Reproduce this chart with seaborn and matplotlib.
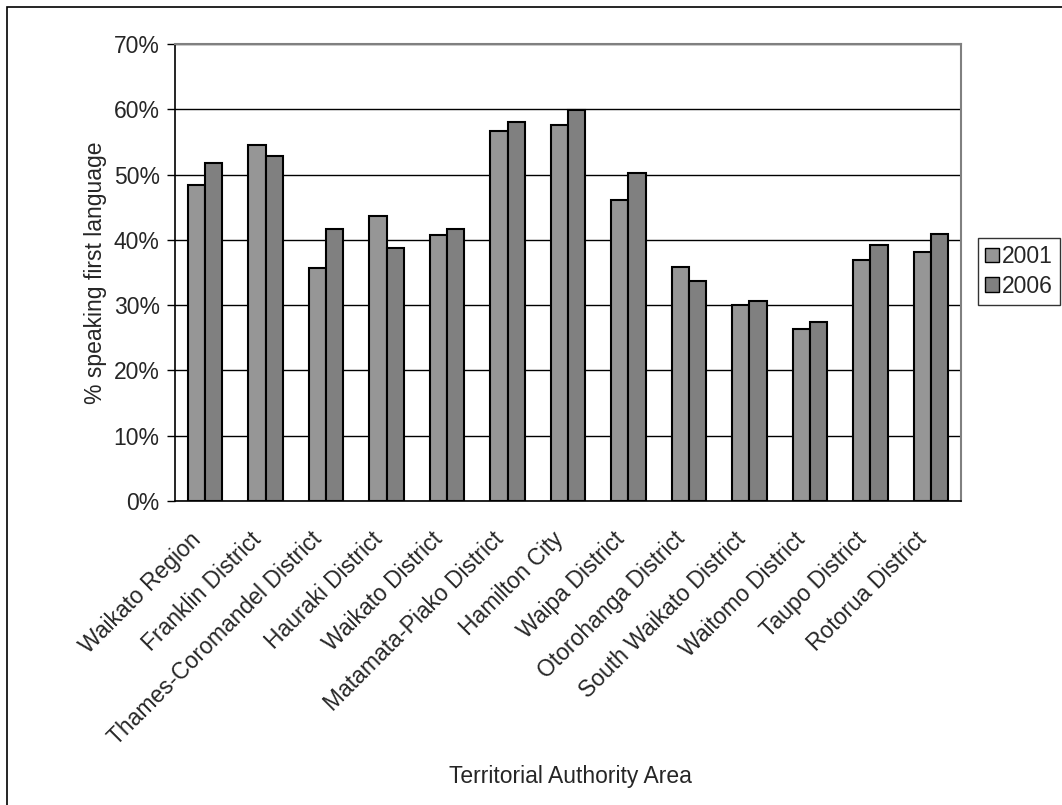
import numpy as np
import pandas as pd
import matplotlib
matplotlib.use("Agg")
import matplotlib.pyplot as plt
import matplotlib.transforms as mtransforms
import seaborn as sns
from matplotlib.patches import Rectangle, Patch

categories = ["Waikato Region", "Franklin District", "Thames-Coromandel District",
              "Hauraki District", "Waikato District", "Matamata-Piako District",
              "Hamilton City", "Waipa District", "Otorohanga District",
              "South Waikato District", "Waitomo District", "Taupo District",
              "Rotorua District"]
values_2001 = [48.4, 54.6, 35.7, 43.6, 40.7, 56.6, 57.6, 46.1, 35.8, 30.0, 26.4, 36.9, 38.2]
values_2006 = [51.7, 52.9, 41.6, 38.8, 41.6, 58.1, 59.9, 50.3, 33.7, 30.7, 27.4, 39.2, 40.9]
years = ["2001", "2006"]
colors = ["#969696", "#808080"]

df = pd.DataFrame({
    "area": categories * 2,
    "year": [years[0]] * len(categories) + [years[1]] * len(categories),
    "value": values_2001 + values_2006,
})

sns.set_style("white")
plt.rcParams["font.family"] = ["Liberation Sans", "DejaVu Sans"]
FS = 16.5

fig = plt.figure(figsize=(10.62, 8.05), dpi=100)
ax = fig.add_axes([175 / 1062, 1 - 501 / 805, (961 - 175) / 1062, (501 - 44) / 805])

sns.barplot(data=df, x="area", y="value", hue="year", palette=colors,
            width=0.57, gap=0, edgecolor="black", linewidth=1.5,
            saturation=1, ax=ax, legend=False, zorder=3)

ax.set_ylim(0, 70)
ax.set_xlim(-0.5, len(categories) - 0.5)
yt = np.arange(0, 71, 10)
ax.set_yticks(yt)
ax.set_yticklabels([f"{v}%" for v in yt], fontsize=FS)
ax.yaxis.grid(True, color="black", linewidth=1, zorder=0)
ax.set_axisbelow(True)

ax.set_xticks(np.arange(len(categories)))
ax.set_xticklabels(categories, rotation=45, ha="right", rotation_mode="anchor", fontsize=FS)
ax.set_xticks(np.arange(-0.5, len(categories), 1), minor=True)
ax.tick_params(axis="x", which="major", length=0, pad=12)
ax.tick_params(axis="x", which="minor", length=6, width=1, color="black", direction="out")
ax.tick_params(axis="y", which="major", length=6, width=1, color="black", direction="out", left=True, pad=5)

offset = mtransforms.ScaledTranslation(-16 / 100, -10 / 100, fig.dpi_scale_trans)
for lbl in ax.get_xticklabels():
    lbl.set_transform(lbl.get_transform() + offset)

for s in ["left", "bottom"]:
    ax.spines[s].set_color("black")
    ax.spines[s].set_linewidth(1.2)
for s in ["top", "right"]:
    ax.spines[s].set_color("#808080")
    ax.spines[s].set_linewidth(1.5)
    ax.spines[s].set_visible(True)

ax.set_xlabel("Territorial Authority Area", fontsize=FS)
ax.xaxis.set_label_coords((570 - 175) / (961 - 175), -(765 - 501) / (501 - 44))
ax.set_ylabel("% speaking first language", fontsize=FS)
ax.yaxis.set_label_coords(-(175 - 107) / (961 - 175), 0.5)

handles = [Patch(facecolor=c, edgecolor="black", linewidth=1) for c in colors]
leg = fig.legend(handles, years, loc="upper left",
                 bbox_to_anchor=(978 / 1062, 1 - 238 / 805),
                 fontsize=FS, frameon=True, fancybox=False, shadow=False,
                 handlelength=0.6, handleheight=0.6, handletextpad=0.15,
                 borderpad=0.3, labelspacing=0.3, borderaxespad=0)
leg.get_frame().set_edgecolor("black")
leg.get_frame().set_linewidth(1)

fig.patches.append(Rectangle((7 / 1062, -0.1), 1.2, 1 - 7 / 805 + 0.1,
                             transform=fig.transFigure, fill=False,
                             edgecolor="black", linewidth=1.2))

fig.savefig("out.png", dpi=100)
